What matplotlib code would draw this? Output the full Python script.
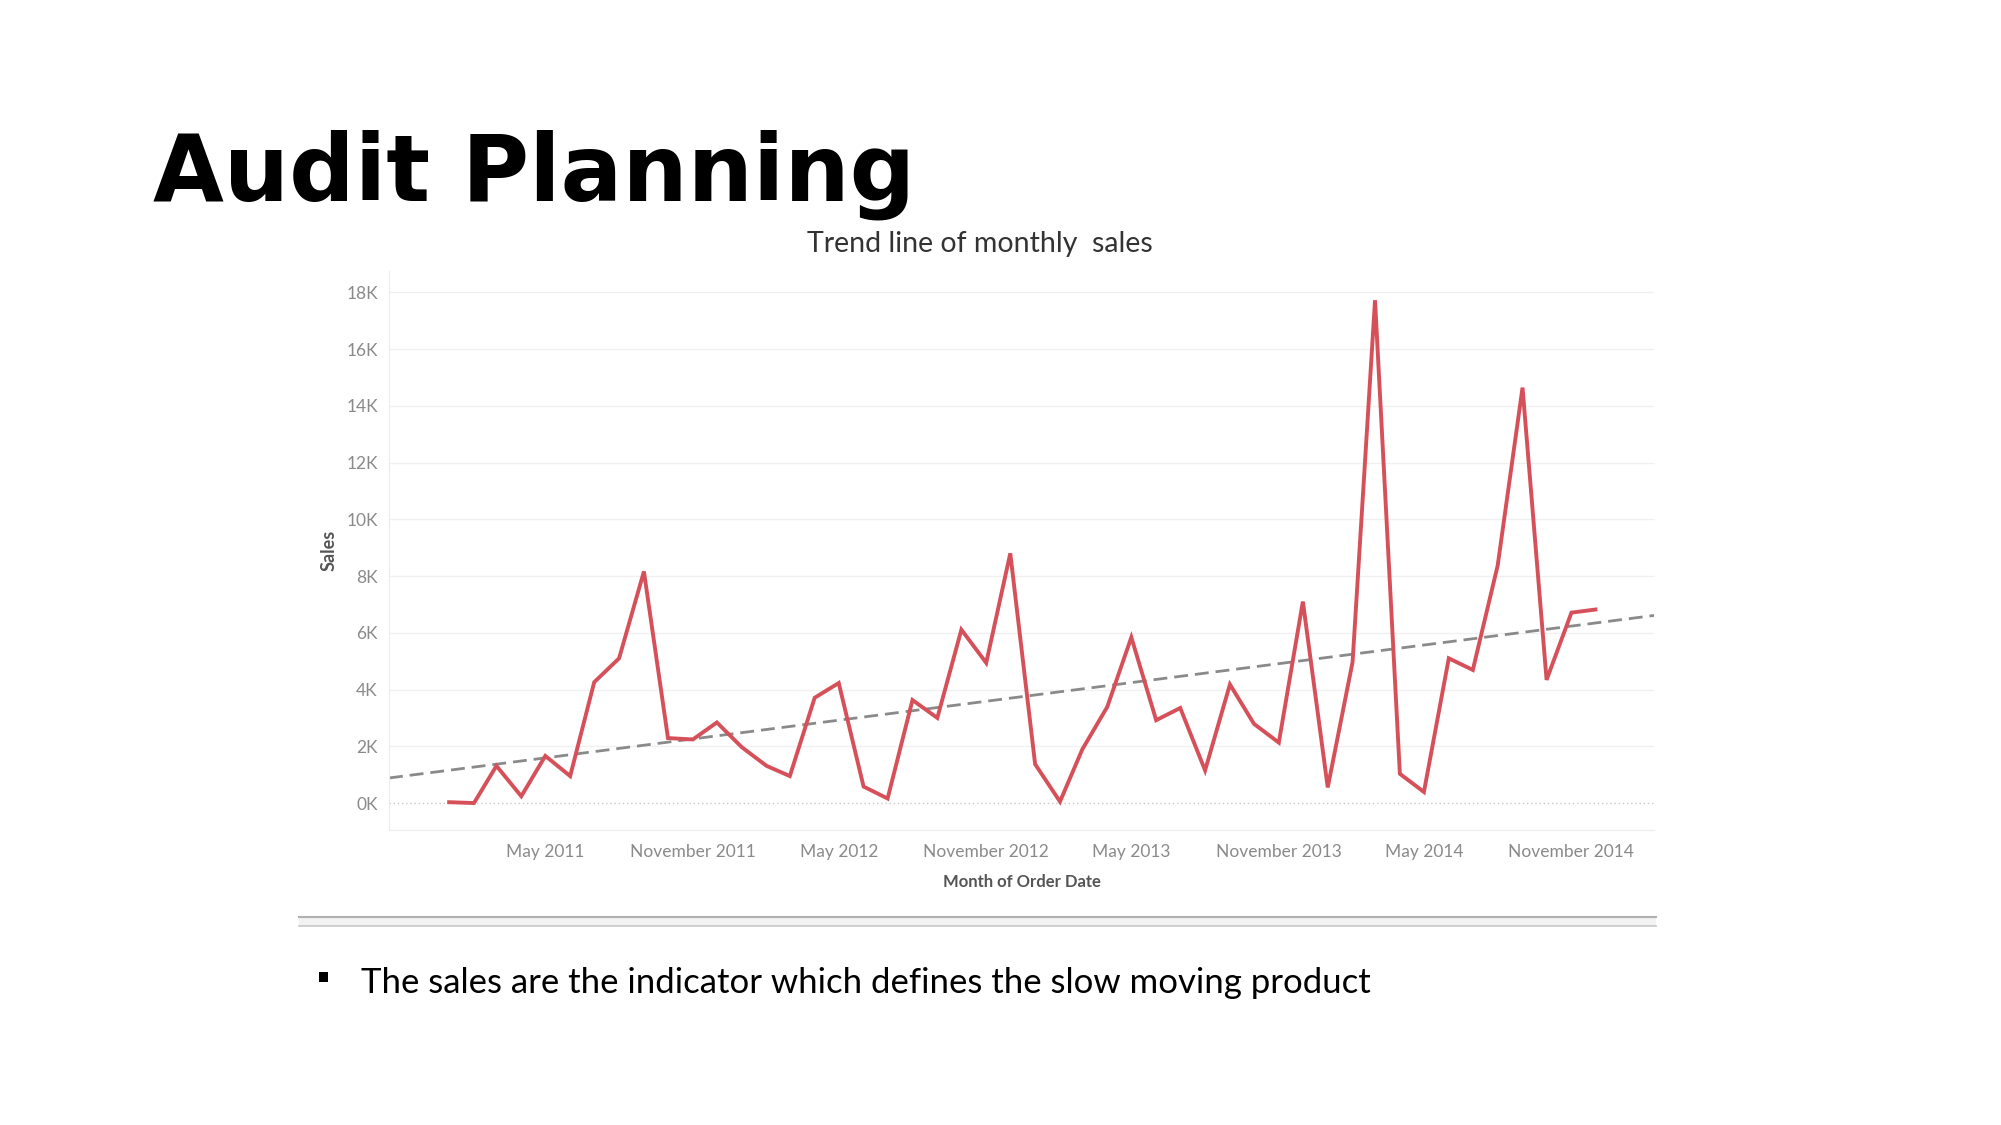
import pandas as pd
import numpy as np
import matplotlib
matplotlib.use('Agg')
import matplotlib.pyplot as plt
import matplotlib.dates as mdates
from matplotlib.ticker import FixedLocator, FuncFormatter

# monthly sales (K), Jan 2011 .. Dec 2014
months = pd.date_range('2011-01-01', periods=48, freq='MS')
sales_k = [0.03, 0.00, 1.31, 0.24, 1.66, 0.95, 4.26, 5.10, 8.16, 2.29,
           2.24, 2.84, 1.97, 1.31, 0.95, 3.71, 4.23, 0.58, 0.16, 3.63,
           3.00, 6.11, 4.94, 8.80, 1.37, 0.05, 1.90, 3.39, 5.84, 2.92,
           3.35, 1.15, 4.18, 2.79, 2.13, 7.10, 0.55, 4.97, 17.72, 1.03,
           0.39, 5.10, 4.69, 8.37, 14.64, 4.34, 6.71, 6.82]
tick_months = ['2011-05-01', '2011-11-01', '2012-05-01', '2012-11-01',
               '2013-05-01', '2013-11-01', '2014-05-01', '2014-11-01']
y_ticks = [0, 2, 4, 6, 8, 10, 12, 14, 16, 18]

sales = np.array(sales_k) * 1000
xnum = mdates.date2num(months)

fig = plt.figure(figsize=(20.01, 11.25), dpi=100)
fig.patch.set_facecolor('white')

# slide title
fig.text(153 / 2001, 1 - 200 / 1125, 'Audit Planning', fontsize=66, fontweight='bold',
         family='DejaVu Sans', color='black', ha='left', va='baseline')

ax = fig.add_axes([389 / 2001, 1 - 830 / 1125, 1265 / 2001, 559 / 1125])
ax.plot(months, sales, color='#d6505a', lw=2.8, solid_joinstyle='miter', zorder=3)

x0 = mdates.date2num(pd.Timestamp('2010-10-18'))
x1 = mdates.date2num(pd.Timestamp('2015-02-12'))
ax.set_xlim(x0, x1)
ax.set_ylim(-950, 18750)

# linear trend line
coef = np.polyfit(xnum, sales, 1)
xx = np.array([x0, x1])
ax.plot(xx, np.polyval(coef, xx), color='#8a8a8a', lw=2, ls=(0, (5, 2.5)), zorder=2)

ax.yaxis.set_major_locator(FixedLocator([v * 1000 for v in y_ticks]))
ax.yaxis.set_major_formatter(FuncFormatter(lambda v, p: f'{v / 1000:.0f}K'))
ax.set_xticks(mdates.date2num(pd.to_datetime(tick_months)))
ax.set_xticklabels([pd.Timestamp(t).strftime('%B %Y') for t in tick_months])

for v in y_ticks:
    if v == 0:
        ax.axhline(0, color='#c8c8c8', lw=1, ls=(0, (1, 2)), zorder=1)
    else:
        ax.axhline(v * 1000, color='#f0f0f0', lw=1, zorder=1)

for s in ['top', 'right']:
    ax.spines[s].set_visible(False)
ax.spines['left'].set_color('#ececec')
ax.spines['bottom'].set_color('#ececec')
ax.tick_params(length=0, labelsize=12.5, labelcolor='#8a8a8a', pad=8)
ax.tick_params(axis='x', pad=10)
for lab in ax.get_xticklabels() + ax.get_yticklabels():
    lab.set_family('Lato')

fig.text(980 / 2001, 1 - 244 / 1125, 'Trend line of monthly  sales', family='Lato',
         fontsize=20.5, color='#333333', ha='center', va='center')
ax.set_ylabel('Sales', family='Lato', fontsize=13, fontweight='bold', color='#555555', labelpad=6)
ax.set_xlabel('Month of Order Date', family='Lato', fontsize=12, fontweight='bold', color='#555555', labelpad=10)

# separator under the chart
fig.add_artist(plt.Rectangle((299 / 2001, 1 - 926 / 1125), 1357 / 2001, 9 / 1125,
                             transform=fig.transFigure, facecolor='#f2f2f2',
                             edgecolor='none'))
fig.add_artist(plt.Line2D([299 / 2001, 1656 / 2001], [1 - 917 / 1125] * 2, color='#b0b0b0', lw=1.5))
fig.add_artist(plt.Line2D([299 / 2001, 1656 / 2001], [1 - 926 / 1125] * 2, color='#c8c8c8', lw=1.2))

# bullet text
fig.add_artist(plt.Rectangle((319 / 2001, 1 - 982 / 1125), 9 / 2001, 10 / 1125,
                             transform=fig.transFigure, facecolor='black', edgecolor='none'))
fig.text(361 / 2001, 1 - 993 / 1125, 'The sales are the indicator which defines the slow moving product',
         family='Lato', fontsize=25, color='black', ha='left', va='baseline')

fig.savefig('out.png', dpi=100, facecolor='white')
